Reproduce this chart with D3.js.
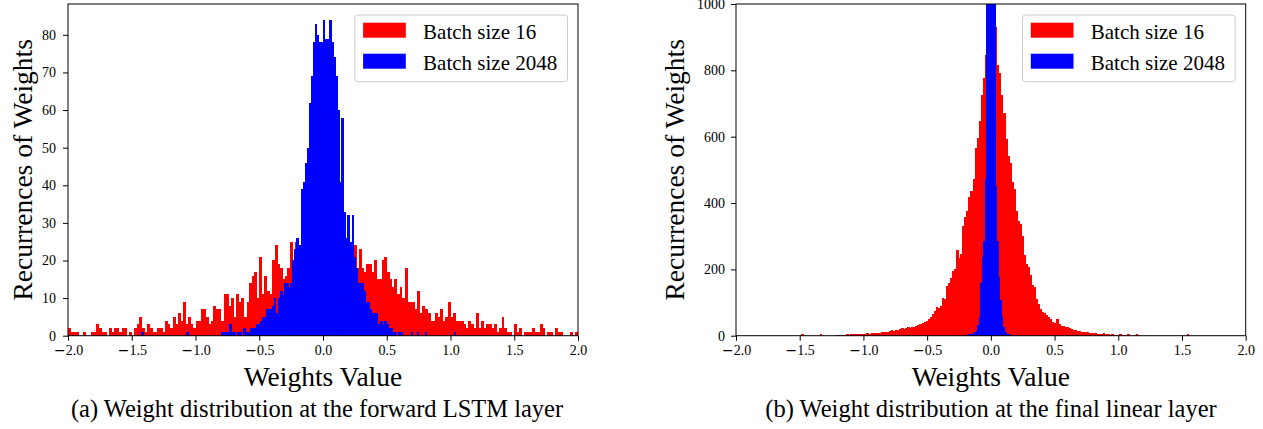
<!DOCTYPE html>
<html><head><meta charset="utf-8">
<script src="https://cdn.jsdelivr.net/npm/d3@7"></script>
<style>
body{margin:0;background:#fff}
svg{display:block}
text{font-family:"Liberation Serif","Times New Roman",Times,serif;fill:#000}
</style>
</head><body>
<svg id="c" width="1263" height="429"></svg>
<script>
// ---------------- data ----------------
const xTicks = [-2.0, -1.5, -1.0, -0.5, 0.0, 0.5, 1.0, 1.5, 2.0];
const yTicksA = [0, 10, 20, 30, 40, 50, 60, 70, 80];
const yTicksB = [0, 200, 400, 600, 800, 1000];
const legendLabels = ["Batch size 16", "Batch size 2048"];
const seriesColors = ["#ff0000", "#0000ff"];
const xTitle = "Weights Value";
const yTitle = "Recurrences of Weights";
const captions = ["(a) Weight distribution at the forward LSTM layer",
                  "(b) Weight distribution at the final linear layer"];

// (a) forward LSTM layer, batch 16: bins of 0.02 starting at -2.0
const binA16 = [-2.0, 0.02];
const countsA16 = [
  2,1,1,1,0,0,1,0,0,1,
  1,3,2,1,1,0,2,1,2,2,
  1,2,2,0,1,0,2,3,5,2,
  1,3,2,1,1,2,2,1,4,3,
  2,5,3,6,4,9,3,5,3,2,
  4,4,7,7,5,3,4,8,7,7,
  4,11,11,8,10,5,11,9,10,5,
  9,14,16,17,10,21,11,16,12,11,
  20,24,19,18,15,16,18,25,14,25,
  24,24,26,28,27,30,29,31,28,30,
  32,29,30,27,28,26,27,25,20,22,
  20,22,24,18,23,18,17,19,19,17,
  20,15,15,20,21,17,15,13,15,11,
  13,10,18,9,9,9,7,12,6,8,
  7,6,4,4,6,5,7,4,5,9,
  5,6,4,4,4,3,2,4,3,2,
  6,2,4,2,3,3,2,3,1,2,
  5,2,1,1,0,3,1,2,0,1,
  1,1,2,1,1,3,2,0,1,1,
  0,2,1,1,0,0,0,1,0,1
];
// (a) batch 2048: bins of 0.016 starting at -0.8
const binA2048 = [-0.8, 0.016];
const countsA2048 = [
  1,1,1,1,3,1,1,0,1,1,
  0,2,1,1,2,2,2,3,3,4,
  5,5,7,7,7,8,10,6,10,12,
  11,14,14,13,14,20,23,26,24,39,
  41,46,50,62,69,78,83,80,78,78,
  84,79,79,84,78,74,69,60,41,58,
  33,26,32,25,32,21,18,14,14,14,
  12,9,9,7,6,6,6,3,4,3,
  4,3,2,2,1,1,0,1,1,0,
  0,0,0,1,0,0,1,0,0,0,1
];
const strayA2048 = [[-1.424, 1], [-1.072, 1], [1.024, 1]];

// (b) final linear layer, batch 16: bins of 0.016 starting at -1.504
const binB16 = [-1.504, 0.016];
const countsB16 = [
  0,4,0,0,0,0,0,0,0,0,
  4,0,0,0,0,0,0,0,3,2,
  3,2,2,6,3,4,5,4,5,6,
  5,4,6,8,6,7,8,7,9,8,
  10,10,12,10,13,17,15,18,17,20,
  22,21,23,25,22,25,25,30,32,36,
  38,42,45,50,55,65,75,87,85,90,
  115,110,150,160,175,195,200,258,235,245,
  332,357,377,417,437,472,567,597,647,727,
  777,847,1030,1080,1060,947,932,817,792,727,
  672,592,542,522,462,442,377,347,337,302,
  242,217,207,182,152,147,112,97,82,72,
  68,62,57,50,42,37,50,35,30,30,
  27,25,22,20,18,17,15,14,12,11,
  10,12,9,7,8,7,6,6,6,8,
  5,4,3,4,2,0,3,4,3,0,
  3,4,0,0,3,4,3,0,0,0,
  0,0,0,0,0,0,0,0,0,0,
  0,0,0,0,0,0,0,0,0,0,
  4
];
// (b) batch 2048: bins of 0.012 starting at -0.192
const binB2048 = [-0.192, 0.012];
const countsB2048 = [
  3,4,5,6,8,10,14,32,57,160,
  237,287,472,1150,1600,1900,1850,1500,1100,452,
  287,177,107,57,27,12,6,4,3,2
];

// ---------------- drawing ----------------
const svg = d3.select("#c");
const FONT = '"Liberation Serif","Times New Roman",Times,serif';

function toBins(bin, counts) {
  return counts.map((c, i) => ({x0: bin[0] + i * bin[1], x1: bin[0] + (i + 1) * bin[1], c}))
               .filter(d => d.c > 0);
}

function panel(o) {
  const g = svg.append("g");
  const x = d3.scaleLinear().domain([-2, 2]).range([o.L, o.R]);
  const y = d3.scaleLinear().domain([0, o.ymax]).range([o.B, o.T]);
  const clipId = "clip" + o.id;
  svg.append("defs").append("clipPath").attr("id", clipId)
    .append("rect").attr("x", o.L).attr("y", o.T).attr("width", o.R - o.L).attr("height", o.B - o.T);

  const plot = g.append("g").attr("clip-path", `url(#${clipId})`);
  o.series.forEach((s, si) => {
    plot.append("g").attr("fill", seriesColors[si]).attr("shape-rendering", "crispEdges")
      .selectAll("rect").data(s).join("rect")
      .attr("x", d => x(d.x0))
      .attr("width", d => x(d.x1) - x(d.x0) + 0.4)
      .attr("y", d => y(d.c))
      .attr("height", d => o.B - y(d.c));
  });

  // axes
  const fmt = d3.format(".1f");
  const ax = g.append("g").attr("transform", `translate(0,${o.B})`)
    .call(d3.axisBottom(x).tickValues(xTicks).tickSize(5).tickPadding(4.5).tickFormat(fmt));
  const ay = g.append("g").attr("transform", `translate(${o.L},0)`)
    .call(d3.axisLeft(y).tickValues(o.yTicks).tickSize(5).tickPadding(o.ypad).tickFormat(d3.format("d")));
  [ax, ay].forEach(a => {
    a.attr("font-family", null).attr("font-size", null);
    a.select(".domain").remove();
    a.selectAll(".tick line").attr("stroke", "#000").attr("stroke-width", 1);
    a.selectAll(".tick text").style("font-size", "14px").style("fill", "#000")
      .style("font-family", FONT);
  });
  // negative x tick labels: mathtext-style minus sign
  ax.selectAll(".tick text").each(function (d) {
    if (d < 0) {
      const t = d3.select(this).text(null);
      t.append("tspan").style("font-family", '"DejaVu Sans",sans-serif').text("\u2212");
      t.append("tspan").text(fmt(-d));
    }
  });

  // frame
  g.append("rect").attr("x", o.L).attr("y", o.T).attr("width", o.R - o.L).attr("height", o.B - o.T)
    .attr("fill", "none").attr("stroke", "#000").attr("stroke-width", 1);

  // titles
  g.append("text").attr("x", (o.L + o.R) / 2).attr("y", 386).attr("text-anchor", "middle")
    .style("font-size", "27.5px").text(xTitle);
  g.append("text").attr("transform", `translate(${o.ylx},${(o.T + o.B) / 2}) rotate(-90)`)
    .attr("text-anchor", "middle").style("font-size", "27.5px").text(yTitle);
  g.append("text").attr("x", o.capx).attr("y", 417).attr("text-anchor", "middle")
    .style("font-size", "24.5px").text(o.caption);

  // legend
  const lw = 212.7, lh = 66.7;
  const lx = o.R - 10.5 - lw, ly = o.T + 11;
  const lg = g.append("g");
  lg.append("rect").attr("x", lx).attr("y", ly).attr("width", lw).attr("height", lh)
    .attr("rx", 3).attr("fill", "#fff").attr("fill-opacity", 0.8)
    .attr("stroke", "#cccccc").attr("stroke-width", 1);
  legendLabels.forEach((lab, i) => {
    lg.append("rect").attr("x", lx + 8.3).attr("y", ly + 7.7 + i * 31)
      .attr("width", 42.7).attr("height", 15).attr("fill", seriesColors[i]);
    lg.append("text").attr("x", lx + 68.3).attr("y", ly + 24.3 + i * 30.5)
      .style("font-size", "21px").text(lab);
  });
}

panel({
  id: "a", L: 68, R: 578, T: 4, B: 335.7, ymax: 84 * 1.05, yTicks: yTicksA, ypad: 7,
  ylx: 31.5, capx: 317, caption: captions[0],
  series: [toBins(binA16, countsA16),
           toBins(binA2048, countsA2048).concat(strayA2048.map(([v, c]) => ({x0: v, x1: v + binA2048[1], c})))]
});
panel({
  id: "b", L: 736, R: 1245.7, T: 4, B: 335.7, ymax: 1000, yTicks: yTicksB, ypad: 6,
  ylx: 683.5, capx: 991, caption: captions[1],
  series: [toBins(binB16, countsB16), toBins(binB2048, countsB2048)]
});
</script>
</body></html>
